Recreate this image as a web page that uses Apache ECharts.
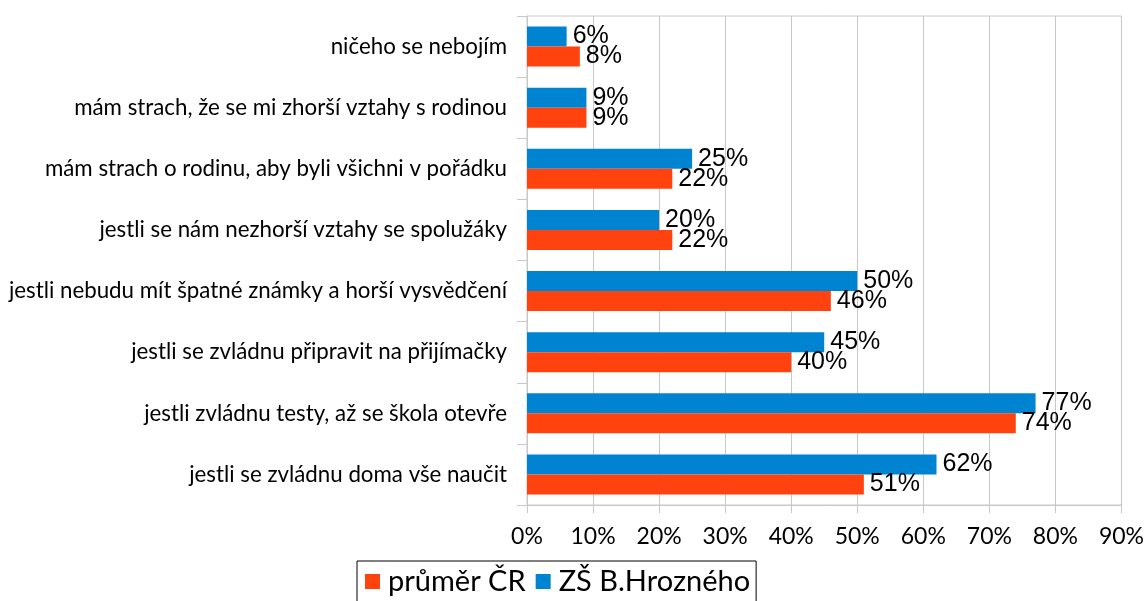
<!DOCTYPE html>
<html>
<head>
<meta charset="utf-8">
<script src="https://cdn.jsdelivr.net/npm/echarts@6/dist/echarts.min.js"></script>
<style>
  html, body { margin: 0; padding: 0; background: #fff; }
  #chart { width: 1147px; height: 601px; }
</style>
</head>
<body>
<div id="chart"></div>
<script>
// categories bottom -> top (as the category axis draws them)
const categories = [
  'jestli se zvládnu doma vše naučit',
  'jestli zvládnu testy, až se škola otevře',
  'jestli se zvládnu připravit na přijímačky',
  'jestli nebudu mít špatné známky a horší vysvědčení',
  'jestli se nám nezhorší vztahy se spolužáky',
  'mám strach o rodinu, aby byli všichni v pořádku',
  'mám strach, že se mi zhorší vztahy s rodinou',
  'ničeho se nebojím'
];
const prumerCR = [51, 74, 40, 46, 22, 22, 9, 8];
const zsHrozneho = [62, 77, 45, 50, 20, 25, 9, 6];
const xTicks = [0, 10, 20, 30, 40, 50, 60, 70, 80, 90];

const chart = echarts.init(document.getElementById('chart'));

const labelFont = 'Lato, "Open Sans", sans-serif';
const valueLabel = {
  show: true,
  position: 'right',
  distance: 6,
  formatter: p => p.value + '%',
  fontFamily: '"Liberation Sans", Arial, sans-serif',
  fontSize: 25,
  color: '#000'
};

chart.setOption({
  animation: false,
  grid: {
    left: 527, right: 23, top: 16, bottom: 96,
    show: true, borderColor: '#c8c8c8', borderWidth: 1
  },
  xAxis: {
    type: 'value',
    min: xTicks[0],
    max: xTicks[xTicks.length - 1],
    interval: 10,
    axisLine: { show: true, lineStyle: { color: '#c8c8c8' } },
    axisTick: { show: true, length: 8, lineStyle: { color: '#c8c8c8' } },
    splitLine: { show: true, lineStyle: { color: '#c8c8c8' } },
    axisLabel: {
      margin: 20,
      formatter: v => v + '%',
      fontFamily: labelFont,
      fontSize: 23,
      color: '#000'
    }
  },
  yAxis: {
    type: 'category',
    data: categories,
    axisLine: { show: true, lineStyle: { color: '#c8c8c8' } },
    axisTick: { show: true, length: 10, lineStyle: { color: '#c8c8c8' } },
    splitLine: { show: false },
    axisLabel: {
      margin: 20,
      fontFamily: labelFont,
      fontSize: 22.3,
      color: '#000'
    }
  },
  legend: {
    left: 357,
    top: 561,
    data: ['průměr ČR', 'ZŠ B.Hrozného'],
    icon: 'rect',
    itemWidth: 15,
    itemHeight: 15,
    itemGap: 10,
    borderColor: '#000',
    borderWidth: 1,
    padding: [6, 6, 14, 8],
    textStyle: { fontFamily: labelFont, fontSize: 29, color: '#000', padding: [0, 0, 0, 3] }
  },
  series: [
    {
      name: 'ZŠ B.Hrozného',
      type: 'bar',
      data: zsHrozneho,
      barWidth: 20,
      barGap: '0%',
      itemStyle: { color: '#0084d1' },
      label: valueLabel
    },
    {
      name: 'průměr ČR',
      type: 'bar',
      data: prumerCR,
      barWidth: 20,
      barGap: '0%',
      itemStyle: { color: '#ff420e' },
      label: valueLabel
    }
  ]
});
</script>
</body>
</html>
